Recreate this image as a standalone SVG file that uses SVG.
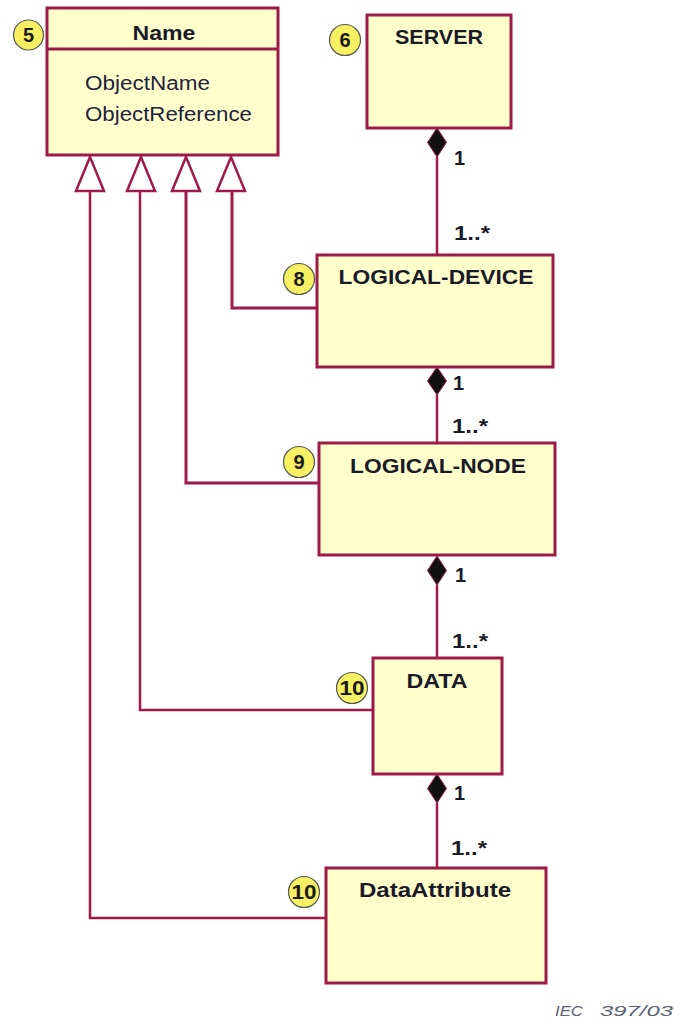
<svg xmlns="http://www.w3.org/2000/svg" width="674" height="1021" viewBox="0 0 674 1021">
<style>
.box{fill:#ffffcc;stroke:#9e1a4a;stroke-width:3}
.ln{fill:none;stroke:#9e1a4a;stroke-width:2.5}
.tri{fill:#ffffff;stroke:#9e1a4a;stroke-width:2.5;stroke-linejoin:miter}
.dia{fill:#111111;stroke:#9e1a4a;stroke-width:1}
.title{font-family:"Liberation Sans",Arial,sans-serif;font-weight:bold;font-size:20px;fill:#1a1a2a;text-anchor:middle}
.attr{font-family:"Liberation Sans",Arial,sans-serif;font-size:20px;fill:#222240}
.mult{font-family:"Liberation Sans",Arial,sans-serif;font-weight:bold;font-size:20px;fill:#1a1a2a}
.badge circle{fill:#f6f062;stroke:#555555;stroke-width:1.2}
.badge text{font-family:"Liberation Sans",Arial,sans-serif;font-weight:bold;font-size:20px;fill:#1a1a1a;text-anchor:middle}
.note{font-family:"Liberation Sans",Arial,sans-serif;font-style:italic;font-size:15px;fill:#5a6070}
</style>
<rect width="674" height="1021" fill="#ffffff"/>
<g id="connectors">
  <polyline class="ln" points="90,192 90,918 326,918"/>
  <polyline class="ln" points="140,192 140,710 373,710"/>
  <polyline class="ln" points="186,192 186,483 319,483" style="stroke-width:3"/>
  <polyline class="ln" points="232,192 232,308 317,308" style="stroke-width:3"/>
  <polygon class="tri" points="90,157 76,191 104,191"/>
  <polygon class="tri" points="141,157 127,191 155,191"/>
  <polygon class="tri" points="186,157 172,191 200,191"/>
  <polygon class="tri" points="231,157 217,191 245,191"/>
  <line class="ln" x1="437" y1="157" x2="437" y2="255"/>
  <polygon class="dia" points="437,128 446.5,142.5 437,157 427.5,142.5"/>
  <line class="ln" x1="437" y1="395" x2="437" y2="443"/>
  <polygon class="dia" points="437,367 446.5,381 437,395 427.5,381"/>
  <line class="ln" x1="437" y1="585" x2="437" y2="658"/>
  <polygon class="dia" points="437,556 446.5,570.5 437,585 427.5,570.5"/>
  <line class="ln" x1="437" y1="803" x2="437" y2="868"/>
  <polygon class="dia" points="437,774 446.5,788.5 437,803 427.5,788.5"/>
  <text class="mult" x="454" y="165">1</text>
  <text class="mult" x="454" y="240" textLength="36" lengthAdjust="spacingAndGlyphs">1..*</text>
  <text class="mult" x="453" y="390">1</text>
  <text class="mult" x="452" y="433" textLength="36" lengthAdjust="spacingAndGlyphs">1..*</text>
  <text class="mult" x="455" y="582">1</text>
  <text class="mult" x="452" y="648" textLength="36" lengthAdjust="spacingAndGlyphs">1..*</text>
  <text class="mult" x="454" y="800">1</text>
  <text class="mult" x="451" y="855" textLength="36" lengthAdjust="spacingAndGlyphs">1..*</text>
</g>
<g id="node-name">
  <rect class="box" x="47" y="8" width="231" height="147"/>
  <line class="ln" x1="47" y1="49" x2="278" y2="49" style="stroke-width:3"/>
  <text class="title" x="164" y="40" textLength="63" lengthAdjust="spacingAndGlyphs">Name</text>
  <text class="attr" x="85" y="90" textLength="125" lengthAdjust="spacingAndGlyphs">ObjectName</text>
  <text class="attr" x="85" y="121" textLength="167" lengthAdjust="spacingAndGlyphs">ObjectReference</text>
  <g class="badge"><circle cx="28.5" cy="35" r="15"/><text x="28.5" y="42">5</text></g>
</g>
<g id="node-server">
  <rect class="box" x="367" y="15" width="144" height="113"/>
  <text class="title" x="439" y="44" textLength="88" lengthAdjust="spacingAndGlyphs">SERVER</text>
  <g class="badge"><circle cx="345" cy="40" r="15.5"/><text x="345" y="47">6</text></g>
</g>
<g id="node-logical-device">
  <rect class="box" x="317" y="255" width="236" height="112"/>
  <text class="title" x="436" y="284" textLength="195" lengthAdjust="spacingAndGlyphs">LOGICAL-DEVICE</text>
  <g class="badge"><circle cx="299" cy="279" r="15.5"/><text x="299" y="286">8</text></g>
</g>
<g id="node-logical-node">
  <rect class="box" x="319" y="443" width="236" height="112"/>
  <text class="title" x="438" y="473" textLength="176" lengthAdjust="spacingAndGlyphs">LOGICAL-NODE</text>
  <g class="badge"><circle cx="299" cy="462" r="15.5"/><text x="299" y="469">9</text></g>
</g>
<g id="node-data">
  <rect class="box" x="373" y="658" width="129" height="116"/>
  <text class="title" x="437" y="688" textLength="61" lengthAdjust="spacingAndGlyphs">DATA</text>
  <g class="badge"><circle cx="352" cy="688" r="15.5"/><text x="352" y="695" textLength="25" lengthAdjust="spacingAndGlyphs">10</text></g>
</g>
<g id="node-dataattribute">
  <rect class="box" x="326" y="868" width="220" height="115"/>
  <text class="title" x="435" y="897" textLength="152" lengthAdjust="spacingAndGlyphs">DataAttribute</text>
  <g class="badge"><circle cx="304" cy="892" r="15.5"/><text x="304" y="899" textLength="25" lengthAdjust="spacingAndGlyphs">10</text></g>
</g>
<text class="note" x="555" y="1016" textLength="28" lengthAdjust="spacingAndGlyphs">IEC</text>
<text class="note" x="600" y="1016" textLength="73" lengthAdjust="spacingAndGlyphs">397/03</text>
</svg>
